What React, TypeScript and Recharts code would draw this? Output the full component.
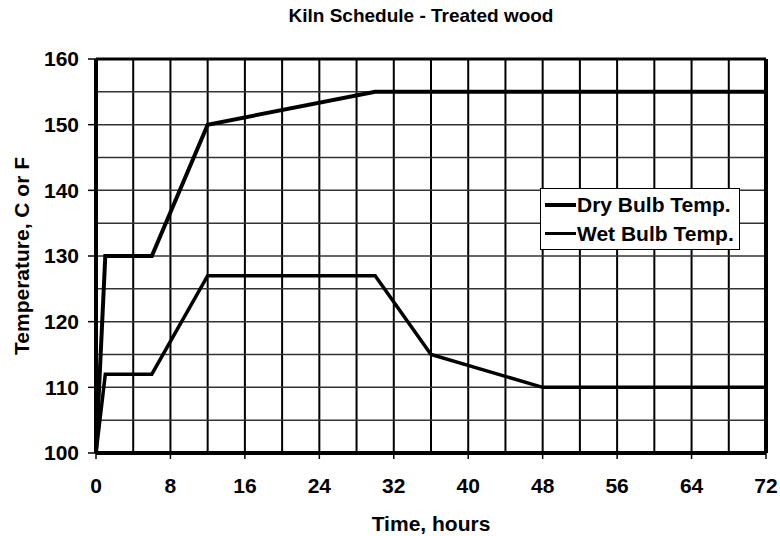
import { LineChart, Line, XAxis, YAxis, CartesianGrid, ReferenceLine, Legend } from 'recharts'

const dryHours = [0, 1, 6, 12, 30, 72]
const dryTemps = [100, 130, 130, 150, 155, 155]
const wetHours = [0, 1, 6, 12, 30, 36, 48, 72]
const wetTemps = [100, 112, 112, 127, 127, 115, 110, 110]

const xTicks = [0, 8, 16, 24, 32, 40, 48, 56, 64, 72]
const yTicks = [100, 110, 120, 130, 140, 150, 160]
const xGrid = [4, 8, 12, 16, 20, 24, 28, 32, 36, 40, 44, 48, 52, 56, 60, 64, 68]
const yGrid = [105, 110, 115, 120, 125, 130, 135, 140, 145, 150, 155]

const dryData = dryHours.map((h, i) => ({ h, t: dryTemps[i] }))
const wetData = wetHours.map((h, i) => ({ h, t: wetTemps[i] }))

const FONT = '"Liberation Sans", Arial, sans-serif'
const tickStyle = { fill: '#000', fontSize: 21, fontWeight: 'bold', fontFamily: FONT }

function LegendBox(props: any) {
  const items = props.payload || []
  return (
    <div style={{ border: '1px solid #000', background: '#fff', padding: '1px 5px 1px 4px', fontFamily: FONT, fontWeight: 'bold', fontSize: 21, color: '#000' }}>
      {items.map((it: any) => (
        <div key={it.value} style={{ display: 'flex', alignItems: 'center', height: 29 }}>
          <span style={{ display: 'inline-block', width: 31, height: it.value.startsWith('Dry') ? 4 : 3, background: '#000', marginRight: 1 }} />
          {it.value}
        </div>
      ))}
    </div>
  )
}

export default function App() {
  return (
    <div style={{ position: 'absolute', left: 0, top: 0, width: 780, height: 536, background: '#fff', fontFamily: FONT }}>
      <div style={{ position: 'absolute', top: 5, left: 0, width: 842, textAlign: 'center', fontWeight: 'bold', fontSize: 19, color: '#000' }}>
        Kiln Schedule - Treated wood
      </div>
      <LineChart width={780} height={536} margin={{ top: 59, right: 14, left: 0, bottom: 0 }}>
        <CartesianGrid horizontal={false} verticalValues={xGrid} stroke="#000" strokeWidth={2} />
        <CartesianGrid vertical={false} horizontalValues={yGrid} stroke="#333" strokeWidth={1.5} />
        <XAxis
          dataKey="h"
          type="number"
          domain={[0, 72]}
          ticks={xTicks}
          interval={0}
          height={83}
          tick={tickStyle}
          tickSize={6}
          tickMargin={19}
          tickLine={{ stroke: '#000', strokeWidth: 1.5 }}
          axisLine={{ stroke: '#000', strokeWidth: 4 }}
          label={{ value: 'Time, hours', position: 'insideBottom', offset: 5, fill: '#000', fontSize: 21, fontWeight: 'bold', fontFamily: FONT }}
        />
        <YAxis
          type="number"
          domain={[100, 160]}
          ticks={yTicks}
          interval={0}
          width={96}
          tick={tickStyle}
          tickSize={8}
          tickMargin={9}
          tickLine={{ stroke: '#000', strokeWidth: 1.5 }}
          axisLine={{ stroke: '#000', strokeWidth: 4 }}
          label={{ value: 'Temperature, C or F', angle: -90, position: 'insideLeft', offset: 22, fill: '#000', fontSize: 21, fontWeight: 'bold', fontFamily: FONT, style: { textAnchor: 'middle' } }}
        />
        <ReferenceLine y={160} stroke="#000" strokeWidth={3} />
        <ReferenceLine x={72} stroke="#000" strokeWidth={4} />
        <Legend
          layout="vertical"
          align="center"
          verticalAlign="middle"
          content={<LegendBox />}
          wrapperStyle={{ left: 540, top: 188, width: 'auto' }}
        />
        <Line data={dryData} dataKey="t" name="Dry Bulb Temp." stroke="#000" strokeWidth={4} dot={false} isAnimationActive={false} />
        <Line data={wetData} dataKey="t" name="Wet Bulb Temp." stroke="#000" strokeWidth={3.5} dot={false} isAnimationActive={false} />
      </LineChart>
    </div>
  )
}
